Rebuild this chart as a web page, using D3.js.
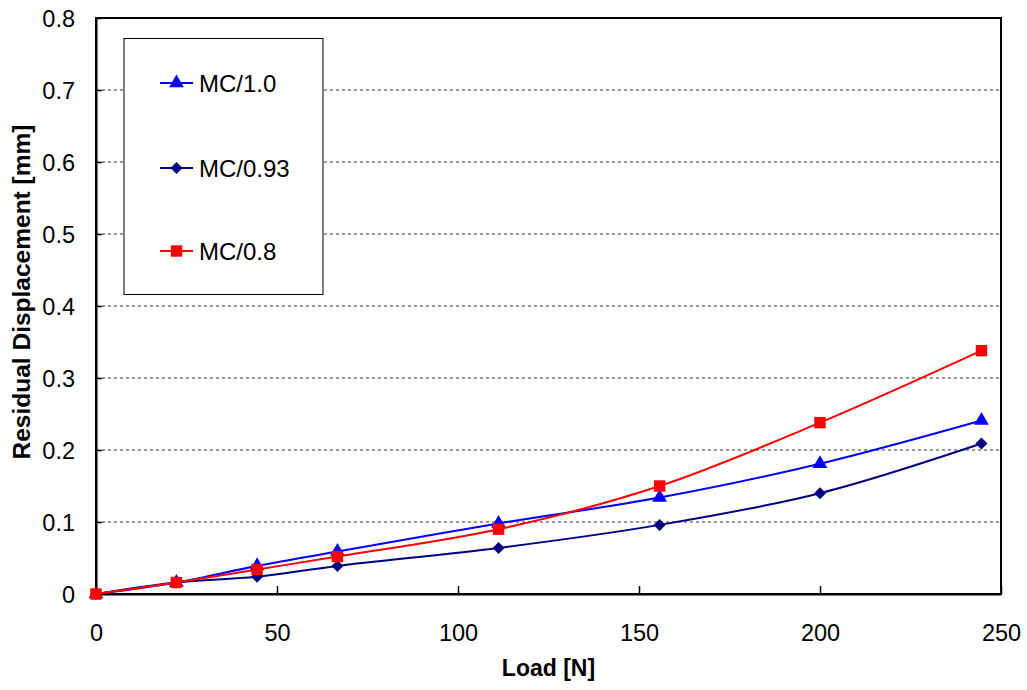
<!DOCTYPE html>
<html>
<head>
<meta charset="utf-8">
<script src="https://cdn.jsdelivr.net/npm/d3@7/dist/d3.min.js"></script>
<style>
  html, body { margin: 0; padding: 0; background: #fff; }
  svg { display: block; font-family: "Liberation Sans", Arial, sans-serif; }
</style>
</head>
<body>
<svg id="chart" width="1027" height="690"></svg>
<script>
// Load steps [N]
const loads = [0, 22.2, 44.5, 66.7, 111.2, 155.7, 200, 244.6];

// Residual displacement [mm] for each moisture-content ratio
const mc10  = [0, 0.016, 0.039, 0.059, 0.098, 0.134, 0.181, 0.241];
const mc093 = [0, 0.016, 0.024, 0.039, 0.064, 0.096, 0.140, 0.209];
const mc08  = [0, 0.016, 0.034, 0.052, 0.090, 0.150, 0.238, 0.338];

const seriesNames = ["MC/1.0", "MC/0.93", "MC/0.8"];
const seriesColors = ["#0000ff", "#000080", "#ff0000"];
const seriesMarkers = ["triangle", "diamond", "square"];
const seriesValues = [mc10, mc093, mc08];

const xTicks = [0, 50, 100, 150, 200, 250];
const yTicks = [0, 0.1, 0.2, 0.3, 0.4, 0.5, 0.6, 0.7, 0.8];

const svg = d3.select("#chart");
const plotLeft = 96, plotRight = 1001, plotTop = 18, plotBottom = 594;

const x = d3.scaleLinear().domain([0, 250]).range([plotLeft, plotRight]);
const y = d3.scaleLinear().domain([0, 0.8]).range([plotBottom, plotTop]);

// Dashed horizontal gridlines
svg.append("g")
  .selectAll("line")
  .data(yTicks.filter(v => v > 0 && v < 0.8))
  .join("line")
  .attr("x1", plotLeft).attr("x2", plotRight)
  .attr("y1", d => y(d)).attr("y2", d => y(d))
  .attr("stroke", "#333")
  .attr("stroke-width", 1)
  .attr("stroke-dasharray", "3,3");

// Legend box (drawn over gridlines)
const legend = svg.append("g");
legend.append("rect")
  .attr("x", 124).attr("y", 38.5)
  .attr("width", 199).attr("height", 256)
  .attr("fill", "#fff").attr("stroke", "#000").attr("stroke-width", 1);

// Plot frame
svg.append("rect")
  .attr("x", plotLeft).attr("y", plotTop)
  .attr("width", plotRight - plotLeft).attr("height", plotBottom - plotTop)
  .attr("fill", "none").attr("stroke", "#000").attr("stroke-width", 2);

// Axes with inward ticks
const xAxis = svg.append("g")
  .attr("transform", `translate(0,${plotBottom})`)
  .call(d3.axisBottom(x).tickValues(xTicks).tickSizeInner(-8).tickSizeOuter(0).tickPadding(30).tickFormat(d3.format("d")));
const yAxis = svg.append("g")
  .attr("transform", `translate(${plotLeft},0)`)
  .call(d3.axisLeft(y).tickValues(yTicks).tickSizeInner(-6).tickSizeOuter(0).tickPadding(21)
    .tickFormat(d => d === 0 ? "0" : d3.format(".1f")(d)));

[xAxis, yAxis].forEach(a => {
  a.select(".domain").attr("stroke", "#000").attr("stroke-width", 2);
  a.selectAll(".tick line").attr("stroke", "#000").attr("stroke-width", 1.5);
  a.selectAll(".tick text")
    .attr("fill", "#000")
    .style("font-size", "23.5px")
    .style("font-family", "'Liberation Sans', Arial, sans-serif");
});
yAxis.selectAll(".tick text").attr("dy", "0.35em");
xAxis.selectAll(".tick text").attr("dy", "0.71em");

// Axis titles
svg.append("text")
  .attr("x", (plotLeft + plotRight) / 2).attr("y", 676)
  .attr("text-anchor", "middle")
  .style("font-size", "23px").style("font-weight", "bold")
  .text("Load [N]");
svg.append("text")
  .attr("transform", `translate(30,292) rotate(-90)`)
  .attr("text-anchor", "middle")
  .style("font-size", "24.5px").style("font-weight", "bold")
  .text("Residual Displacement [mm]");

// Marker symbols; the diamond is a square turned 45 degrees
const symbolFor = {
  triangle: () => d3.symbol().type(d3.symbolTriangle).size(95)(),
  diamond: () => d3.symbol().type(d3.symbolSquare).size(72)(),
  square: () => d3.symbol().type(d3.symbolSquare).size(130)()
};
const markerRotate = { triangle: 0, diamond: 45, square: 0 };

const line = d3.line()
  .x(d => x(d[0]))
  .y(d => y(d[1]))
  .curve(d3.curveCatmullRom.alpha(0.5));

seriesValues.forEach((vals, i) => {
  const pts = loads.map((l, j) => [l, vals[j]]);
  const g = svg.append("g");
  const mk = seriesMarkers[i];
  g.append("path")
    .attr("d", line(pts))
    .attr("fill", "none")
    .attr("stroke", seriesColors[i])
    .attr("stroke-width", 2);
  g.selectAll("path.m")
    .data(pts)
    .join("path")
    .attr("class", "m")
    .attr("transform", d => `translate(${x(d[0])},${y(d[1])}) rotate(${markerRotate[mk]})`)
    .attr("d", symbolFor[mk]())
    .attr("fill", seriesColors[i]);
});

// Legend entries
const rowY = [83, 168, 251];
seriesNames.forEach((name, i) => {
  const mk = seriesMarkers[i];
  legend.append("line")
    .attr("x1", 160).attr("x2", 193)
    .attr("y1", rowY[i]).attr("y2", rowY[i])
    .attr("stroke", seriesColors[i]).attr("stroke-width", 2);
  legend.append("path")
    .attr("transform", `translate(176.5,${rowY[i]}) rotate(${markerRotate[mk]})`)
    .attr("d", symbolFor[mk]())
    .attr("fill", seriesColors[i]);
  legend.append("text")
    .attr("x", 199).attr("y", rowY[i])
    .attr("dy", "0.36em")
    .style("font-size", "24px")
    .text(name);
});
</script>
</body>
</html>
